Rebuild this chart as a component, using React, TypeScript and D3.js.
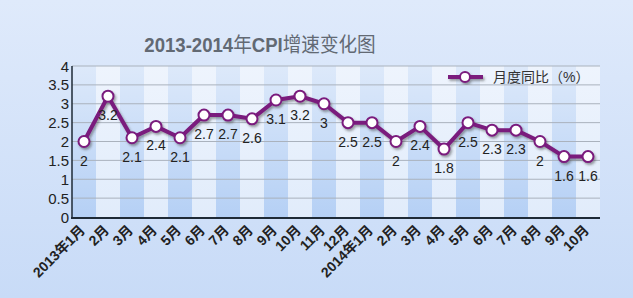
import React from "react";
import * as d3 from "d3";

const categories = ["2013年1月","2月","3月","4月","5月","6月","7月","8月","9月","10月","11月","12月","2014年1月","2月","3月","4月","5月","6月","7月","8月","9月","10月"];
const values = [2, 3.2, 2.1, 2.4, 2.1, 2.7, 2.7, 2.6, 3.1, 3.2, 3, 2.5, 2.5, 2, 2.4, 1.8, 2.5, 2.3, 2.3, 2, 1.6, 1.6];
const yTicks = [0, 0.5, 1, 1.5, 2, 2.5, 3, 3.5, 4];
const seriesName = "月度同比（%）";

const W = 633, H = 298;
const FONT = "'Liberation Sans', Arial, 'Noto Sans CJK SC', sans-serif";
const PURPLE = "#7a1a7d";

export default function App() {
  const idx = categories.map((_, i) => String(i));
  const x = d3.scaleBand().domain(idx).range([72, 600]).padding(0);
  const y = d3.scaleLinear().domain([0, 4]).range([217, 66]);
  const cx = (i: number) => (x(String(i)) as number) + x.bandwidth() / 2;
  const line = d3.line<number>().x((_, i) => cx(i)).y((d) => y(d));
  const path = line(values) || "";

  return (
    <svg width={W} height={H} style={{ position: "fixed", left: 0, top: 0 }} xmlns="http://www.w3.org/2000/svg">
      <defs>
        <linearGradient id="bg" x1="0" y1="0" x2="0" y2="1">
          <stop offset="0" stopColor="#dfeafb" />
          <stop offset="1" stopColor="#c8dbf7" />
        </linearGradient>
        <linearGradient id="dark" x1="0" y1="1" x2="0" y2="0">
          <stop offset="0" stopColor="#b5d0f5" />
          <stop offset="1" stopColor="#dde9fa" />
        </linearGradient>
        <linearGradient id="light" x1="0" y1="1" x2="0" y2="0">
          <stop offset="0" stopColor="#e1ecfb" />
          <stop offset="1" stopColor="#eef4fd" />
        </linearGradient>
        <filter id="sh" x="-10%" y="-20%" width="130%" height="150%">
          <feDropShadow dx="1.5" dy="2" stdDeviation="1.2" floodColor="#333" floodOpacity="0.45" />
        </filter>
      </defs>
      <rect x={0} y={0} width={W} height={H} fill="url(#bg)" />
      <g transform="translate(260,52) scale(0.93,1)">
        <text x={0} y={0} textAnchor="middle" fontFamily={FONT} fontSize={20} fill="#626973">
          <tspan fontWeight="bold">2013-2014</tspan>
          <tspan>年</tspan>
          <tspan fontWeight="bold">CPI</tspan>
          <tspan>增速变化图</tspan>
        </text>
      </g>
      {idx.map((k, i) => (
        <rect key={k} x={x(k)} y={y(4)} width={x.bandwidth()} height={y(0) - y(4)} fill={i % 2 === 0 ? "url(#dark)" : "url(#light)"} />
      ))}
      {yTicks.filter((t) => t > 0).map((t) => (
        <line key={t} x1={72} x2={600} y1={y(t)} y2={y(t)} stroke="#aab2bd" strokeWidth={1} />
      ))}
      {yTicks.map((t) => (
        <text key={t} x={69} y={y(t) + 5.5} textAnchor="end" fontFamily={FONT} fontSize={15} fill="#222">{t}</text>
      ))}
      <line x1={72} x2={72} y1={y(4)} y2={y(0) + 1} stroke="#1e2a36" strokeWidth={1.5} />
      <line x1={71} x2={600} y1={y(0) + 1} y2={y(0) + 1} stroke="#1e2a36" strokeWidth={2} />
      {categories.map((c, i) => (
        <text key={i} transform={`translate(${cx(i) + 2},${231}) rotate(-45)`} textAnchor="end" fontFamily={FONT} fontSize={14} fontWeight="bold" fill="#222">{c}</text>
      ))}
      <g filter="url(#sh)">
        <path d={path} fill="none" stroke={PURPLE} strokeWidth={4} strokeLinejoin="round" />
        {values.map((v, i) => (
          <circle key={i} cx={cx(i)} cy={y(v)} r={5.5} fill="#fff" stroke={PURPLE} strokeWidth={2} />
        ))}
      </g>
      {values.map((v, i) => (
        <text key={i} x={cx(i)} y={y(v) + 24} textAnchor="middle" fontFamily={FONT} fontSize={14} fill="#222">{v}</text>
      ))}
      <g filter="url(#sh)">
        <line x1={448} x2={483} y1={77} y2={77} stroke={PURPLE} strokeWidth={4} />
        <circle cx={465} cy={77} r={5} fill="#fff" stroke={PURPLE} strokeWidth={2} />
      </g>
      <text x={493} y={82} fontFamily={FONT} fontSize={14} fill="#333">{seriesName}</text>
    </svg>
  );
}
